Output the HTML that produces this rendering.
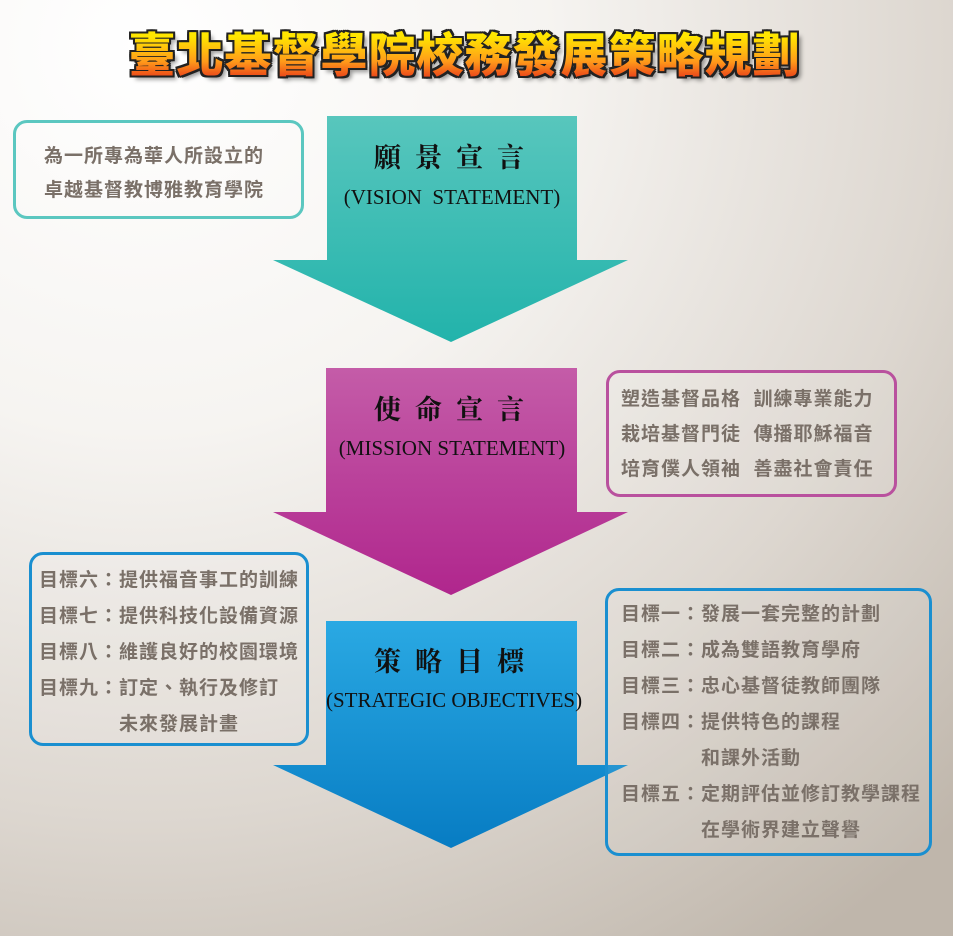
<!DOCTYPE html>
<html><head><meta charset="utf-8"><style>
*{margin:0;padding:0;box-sizing:border-box}
body{width:953px;height:936px;overflow:hidden;position:relative;font-family:"Liberation Sans","Noto Sans CJK TC",sans-serif;
background:radial-gradient(ellipse 1150px 1100px at 15% 5%,#ffffff 0%,#f6f4f1 35%,#ddd7d0 70%,#bfb6ab 100%);}
.t{position:absolute;left:-12px;width:953px;top:28px;text-align:center;font-size:47px;font-weight:900;letter-spacing:1px;line-height:56px;white-space:nowrap}
.t1{color:#222;text-shadow:2px 2px 0 #222,-2px -2px 0 #222,2px -2px 0 #222,-2px 2px 0 #222,0 2px 0 #222,0 -2px 0 #222,2px 0 0 #222,-2px 0 0 #222,4px 4px 4px rgba(0,0,0,.4)}
.t2{background:linear-gradient(#ffe600 15%,#ff9a1a 60%,#e5301a 95%);-webkit-background-clip:text;background-clip:text;color:transparent}
.box{position:absolute;border:3px solid;border-radius:14px;background:rgba(255,255,255,.08)}
.txt{position:absolute;color:#7a7068;font-weight:bold;font-size:19px;letter-spacing:1px;white-space:nowrap}
.txt i{font-style:normal;display:inline-block;width:80px}
.h{position:absolute;text-align:center;width:252px;left:330px;color:#111;font-weight:bold;font-size:27px;letter-spacing:14px;font-family:"Liberation Serif","Noto Serif CJK SC",serif}
.e{position:absolute;text-align:center;width:252px;left:326px;color:#111;font-size:21px;font-family:"Liberation Serif",serif;white-space:nowrap}
</style></head><body>
<div class="t t1">臺北基督學院校務發展策略規劃</div>
<div class="t t2">臺北基督學院校務發展策略規劃</div>
<svg width="953" height="936" style="position:absolute;left:0;top:0">
<defs>
<linearGradient id="g1" x1="0" y1="0" x2="0" y2="1"><stop offset="0" stop-color="#58c6bd"/><stop offset="1" stop-color="#22b3ab"/></linearGradient>
<linearGradient id="g2" x1="0" y1="0" x2="0" y2="1"><stop offset="0" stop-color="#c45ca8"/><stop offset="1" stop-color="#b0268d"/></linearGradient>
<linearGradient id="g3" x1="0" y1="0" x2="0" y2="1"><stop offset="0" stop-color="#2aa9e3"/><stop offset="1" stop-color="#077cc3"/></linearGradient>
</defs>
<polygon points="327,116 577,116 577,260 628,260 451,342 273,260 327,260" fill="url(#g1)"/>
<polygon points="326,368 577,368 577,512 628,512 451,595 273,512 326,512" fill="url(#g2)"/>
<polygon points="326,621 577,621 577,765 628,765 451,848 273,765 326,765" fill="url(#g3)"/>
</svg>
<div class="h" style="top:136px">願景宣言</div>
<div class="e" style="top:185px">(VISION&nbsp; STATEMENT)</div>
<div class="h" style="top:388px">使命宣言</div>
<div class="e" style="top:436px">(MISSION STATEMENT)</div>
<div class="h" style="top:640px">策略目標</div>
<div class="e" style="top:688px">(STRATEGIC OBJECTIVES)</div>

<div class="box" style="left:13px;top:120px;width:291px;height:99px;border-color:#5bc7c0"></div>
<div class="txt" style="left:44px;top:140px;line-height:34px">為一所專為華人所設立的<br>卓越基督教博雅教育學院</div>

<div class="box" style="left:606px;top:370px;width:291px;height:127px;border-color:#b9519e"></div>
<div class="txt" style="left:621px;top:382px;line-height:35px">塑造基督品格&nbsp; 訓練專業能力<br>栽培基督門徒&nbsp; 傳播耶穌福音<br>培育僕人領袖&nbsp; 善盡社會責任</div>

<div class="box" style="left:29px;top:552px;width:280px;height:194px;border-color:#1a8fd0"></div>
<div class="txt" style="left:39px;top:563px;line-height:36px">目標六：提供福音事工的訓練<br>目標七：提供科技化設備資源<br>目標八：維護良好的校園環境<br>目標九：訂定、執行及修訂<br><i></i>未來發展計畫</div>

<div class="box" style="left:605px;top:588px;width:327px;height:268px;border-color:#1a8fd0"></div>
<div class="txt" style="left:621px;top:597px;line-height:36px">目標一：發展一套完整的計劃<br>目標二：成為雙語教育學府<br>目標三：忠心基督徒教師團隊<br>目標四：提供特色的課程<br><i></i>和課外活動<br>目標五：定期評估並修訂教學課程<br><i></i>在學術界建立聲譽</div>
</body></html>
